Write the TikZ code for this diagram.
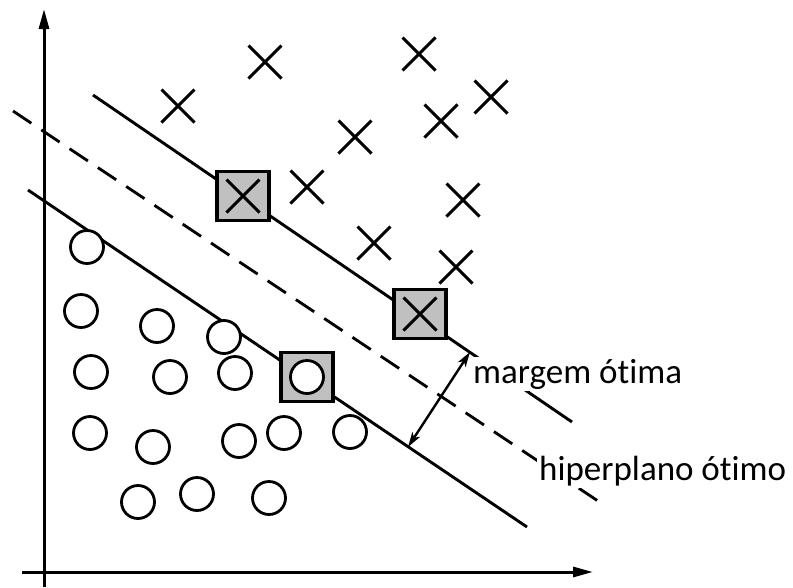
\documentclass[tikz,border=0pt]{standalone}
\usepackage{fontspec}
\setmainfont{Carlito}[Ligatures={NoCommon}]
\usetikzlibrary{arrows.meta,shapes.misc}
\definecolor{svgray}{RGB}{192,192,192}

\begin{document}
\begin{tikzpicture}[x=1pt,y=-1pt,
  cross/.style={cross out,draw,line width=3pt,minimum size=30pt,inner sep=0pt},
  dot/.style={circle,draw,fill=white,line width=2.8pt,minimum size=33pt,inner sep=0pt},
  svbox/.style={rectangle,draw,fill=svgray,line width=3.2pt,minimum width=52pt,minimum height=49pt,inner sep=0pt},
  lbl/.style={font=\fontsize{35}{40}\selectfont,fill=white,inner sep=2pt,anchor=base west},
  bound/.style={line width=2.9pt},
  axis/.style={line width=3pt,-{Triangle[length=20pt,width=10pt]}},
  marg/.style={line width=2.4pt,{Stealth[length=15pt,width=9pt,inset=4pt]}-{Stealth[length=15pt,width=9pt,inset=4pt]}},
]
\useasboundingbox (0,0) rectangle (793,587);

% margin boundaries and the separating hyperplane
\coordinate (u1) at (93,95);   \coordinate (u2) at (572,422);
\coordinate (h1) at (13,111);  \coordinate (h2) at (598,501);
\coordinate (l1) at (28,190);  \coordinate (l2) at (527,527);
\draw[bound] (u1) -- (u2);
\draw[bound,dash pattern=on 22pt off 12pt] (h1) -- (h2);
\draw[bound] (l1) -- (l2);

% labels (white background hides the lines behind them)
\node[lbl] (margem) at (471,383) {margem ótima};
\node[lbl] (hiper) at (537,480) {hiperplano ótimo};

% support vectors
\node[svbox] (s1) at (243,196) {};
\node[svbox] (s2) at (420,314) {};
\node[svbox] (s3) at (307,377) {};

% class X
\foreach \n/\p in {x1/{(178,106)},x2/{(265,62)},x3/{(419,54)},x4/{(491,97)},
                   x5/{(441,121)},x6/{(355,137)},x7/{(307,187)},x8/{(463,200)},
                   x9/{(374,243)},x10/{(456,267)},x11/{(243,196)},x12/{(420,314)}}
  \node[cross] (\n) at \p {};

% class O
\foreach \n/\p in {o1/{(87,247)},o2/{(81,311)},o3/{(157,326)},o4/{(224,337)},
                   o5/{(91,372)},o6/{(170,377)},o7/{(235,373)},o8/{(307,377)},
                   o9/{(90,433)},o10/{(153,447)},o11/{(239,441)},o12/{(284,433)},
                   o13/{(350,432)},o14/{(138,502)},o15/{(197,494)},o16/{(269,498)}}
  \node[dot] (\n) at \p {};

% margin width arrow
\coordinate (m1) at (408,447);
\coordinate (m2) at (470,352);
\draw[marg] (m1) -- (m2);

% axes
\coordinate (yb) at (44,587);
\coordinate (yt) at (44,9);
\coordinate (xl) at (22,572);
\coordinate (xr) at (593,572);
\draw[axis] (yb) -- (yt);
\draw[axis] (xl) -- (xr);
\end{tikzpicture}
\end{document}
